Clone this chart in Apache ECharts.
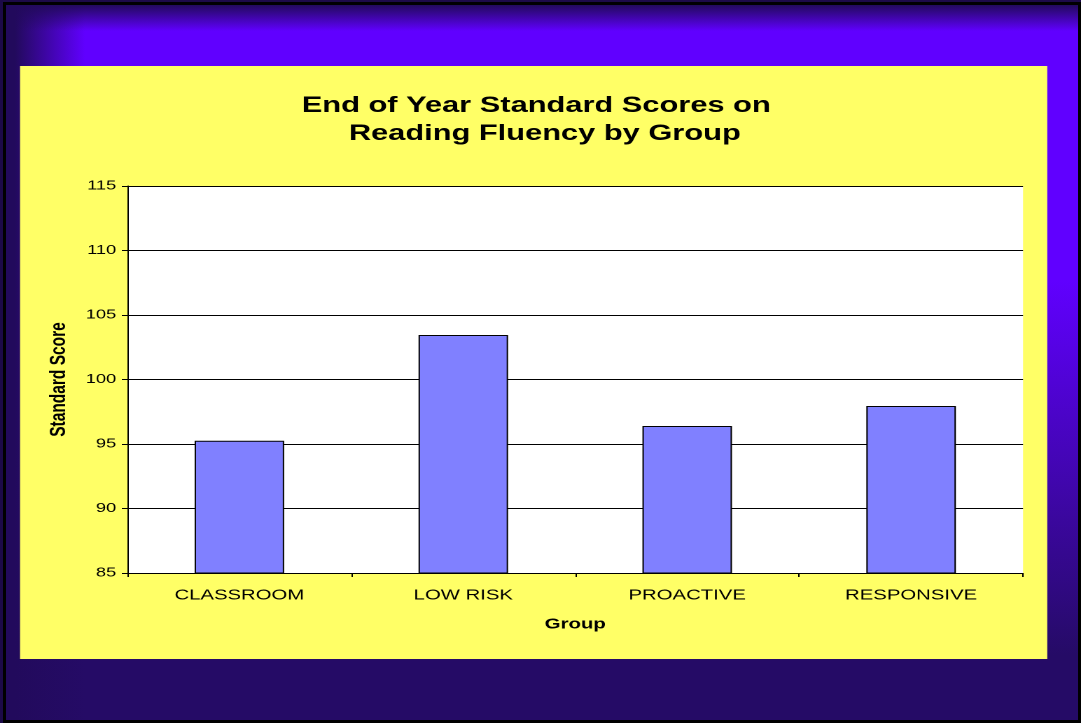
<!DOCTYPE html>
<html><head><meta charset="utf-8">
<script src="https://cdn.jsdelivr.net/npm/echarts@6/dist/echarts.min.js"></script>
<style>
html,body{margin:0;padding:0;width:1081px;height:723px;overflow:hidden;background:#1c0a48;}
#bg{position:absolute;left:3px;top:2px;width:1072px;height:715px;border:3px solid #000;
background:
 linear-gradient(to bottom, rgba(34,10,92,1) 0px, rgba(34,10,92,0) 26px),
 linear-gradient(to right, rgba(34,10,92,1) 9px, rgba(34,10,92,0) 79px),
 linear-gradient(to bottom, #6000ff 275px, #250b66 650px);}
#chart{position:absolute;left:0;top:0;width:772px;height:723px;transform-origin:0 0;transform:scaleX(1.40026);}
</style></head>
<body>
<div id="bg"></div>
<div id="chart"></div>
<script>
const categories = ['CLASSROOM', 'LOW RISK', 'PROACTIVE', 'RESPONSIVE'];
const scores = [95.25, 103.45, 96.4, 97.95];
const yMin = 85, yMax = 115, yStep = 5;
const titleText = 'End of Year Standard Scores on \n Reading Fluency by Group';
const yName = 'Standard Score';
const xName = 'Group';

const chart = echarts.init(document.getElementById('chart'), null, {renderer: 'canvas', devicePixelRatio: 2});
const font = 'Liberation Sans, Arial, sans-serif';
chart.setOption({
  backgroundColor: 'transparent',
  animation: false,
  graphic: [{
    type: 'rect', z: -10, silent: true,
    shape: {x: 14.3, y: 66, width: 733.6, height: 593},
    style: {fill: '#ffff66'}
  }],
  title: {
    text: titleText,
    left: 'center', top: 92, padding: 0,
    textStyle: {fontFamily: font, fontWeight: 'bold', fontSize: 22, lineHeight: 28, color: '#000'}
  },
  grid: {left: 91, right: 41.4, top: 186, bottom: 150, show: true, backgroundColor: '#ffffff', borderWidth: 0, containLabel: false},
  xAxis: {
    type: 'category', data: categories,
    axisLine: {show: true, lineStyle: {color: '#000', width: 1}},
    axisTick: {show: true, length: 4, alignWithLabel: false, lineStyle: {color: '#000'}},
    axisLabel: {fontFamily: font, fontSize: 14.5, color: '#000', margin: 15},
    splitLine: {show: false},
    name: xName, nameLocation: 'middle', nameGap: 44,
    nameTextStyle: {fontFamily: font, fontWeight: 'bold', fontSize: 14.5, color: '#000'}
  },
  yAxis: {
    type: 'value', min: yMin, max: yMax, interval: yStep,
    axisLine: {show: true, lineStyle: {color: '#000', width: 1}},
    axisTick: {show: true, length: 4, lineStyle: {color: '#000'}},
    axisLabel: {fontFamily: font, fontSize: 13, color: '#000', margin: 8},
    splitLine: {show: true, lineStyle: {color: '#000', width: 1}},
    name: yName, nameLocation: 'middle', nameGap: 39, nameRotate: 90,
    nameTextStyle: {fontFamily: font, fontWeight: 'bold', fontSize: 15.5, color: '#000'}
  },
  series: [{
    type: 'bar', data: scores, barCategoryGap: '60%',
    itemStyle: {color: '#8080ff', borderColor: '#000', borderWidth: 1}
  }]
});
</script>
</body></html>
